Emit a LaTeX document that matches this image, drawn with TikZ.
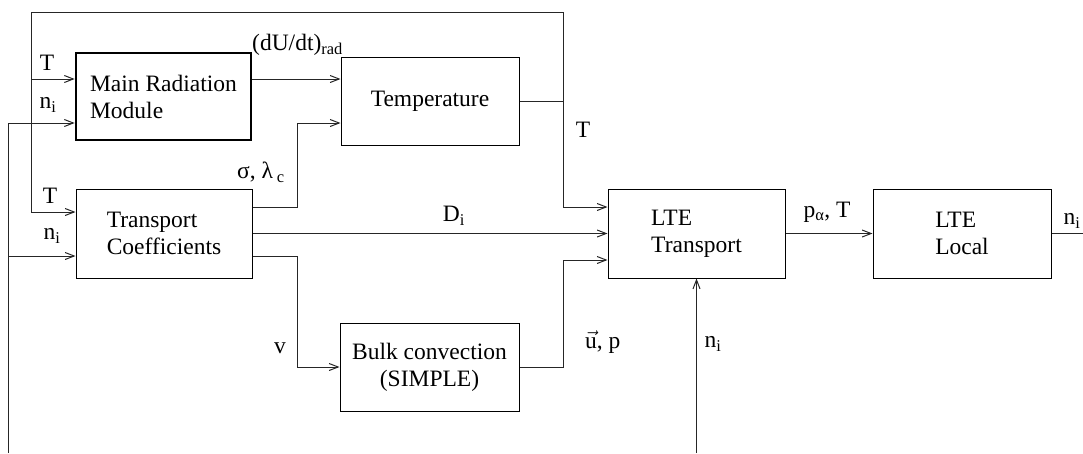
\documentclass[tikz,border=0pt]{standalone}
\usepackage{fontspec}
\setmainfont{Liberation Serif}
\usetikzlibrary{arrows.meta}
\begin{document}
\begin{tikzpicture}[x=1pt,y=-1pt,
  font=\fontsize{23.5}{27}\selectfont,
  box/.style={draw, line width=1pt, minimum width=177pt, minimum height=89pt, inner sep=0pt},
  thickbox/.style={box, line width=2.6pt, minimum width=175pt, minimum height=87pt},
  wire/.style={draw=black!85, line width=1pt},
  arr/.style={wire, -{Straight Barb[length=9pt,width=7pt]}},
  lbl/.style={inner sep=0pt}]

\useasboundingbox (0,0) rectangle (1083,453);

% boxes
\node[thickbox, align=left] (mrm) at (163.5,96.5) {Main Radiation\\Module};
\node[box, minimum width=178pt, minimum height=88pt] (temp) at (430,101) {Temperature};
\node[box, minimum width=176pt, align=left] (tc) at (164,233.5) {Transport\\Coefficients};
\node[box, minimum width=179pt, minimum height=88pt, align=center] (bulk) at (429.5,367) {Bulk convection\\(SIMPLE)};
\node[box, align=left] (ltet) at (696.5,233.5) {LTE\\Transport};
\node[box, minimum width=178pt, align=left] (ltel) at (962,233.5) {LTE\\Local};

% free ends
\coordinate (topL) at (31,12);
\coordinate (topR) at (563,12);
\coordinate (nbot) at (8,453);
\coordinate (nbot2) at (696.5,453);
\coordinate (outR) at (1083,233.5);

% connectors
\draw[arr] (temp.east) -| (topR |- 0,207) -- (ltet.west |- 0,207);
\draw[arr] (temp.east -| topR) -- (topR) -- (topL) |- (tc.west |- 0,212);
\draw[arr] (topL |- 0,79) -- (mrm.west |- 0,79);
\draw[arr] (nbot) |- (mrm.west |- 0,123);
\draw[arr] (nbot |- 0,256) -- (tc.west |- 0,256);
\draw[arr] (mrm.east |- 0,79) -- (temp.west |- 0,79);
\draw[arr] (tc.east |- 0,207) -- (297,207) |- (temp.west |- 0,123);
\draw[arr] (tc.east) -- (ltet.west);
\draw[arr] (tc.east |- 0,256) -- (297,256) |- (bulk.west);
\draw[arr] (bulk.east) -- (563,367) |- (ltet.west |- 0,260);
\draw[arr] (nbot2) -- (ltet.south);
\draw[arr] (ltet.east) -- (ltel.west);
\draw[wire] (ltel.east) -- (outR);

% labels
\node (lT1) at (47,63) {T};
\node (ln1) at (48,105) {n\textsubscript{i}};
\node[anchor=west, inner sep=0pt] (ldu) at (252,45) {(dU/dt)\textsubscript{rad}};
\node (lsig) at (261,172) {σ, λ\,\textsubscript{c}};
\node (lT2) at (583,130) {T};
\node (lD) at (454,216) {D\textsubscript{i}};
\node (lT3) at (50,196) {T};
\node (ln2) at (52,236) {n\textsubscript{i}};
\node (lv) at (280,348) {v};
\node[anchor=west, inner sep=0pt] (lu) at (585,342) {$\vec{\hbox{u}}$, p};
\node (ln3) at (713,344) {n\textsubscript{i}};
\node (lp) at (827,212) {p\textsubscript{α}, T};
\node (ln4) at (1072,221) {n\textsubscript{i}};
\end{tikzpicture}
\end{document}
